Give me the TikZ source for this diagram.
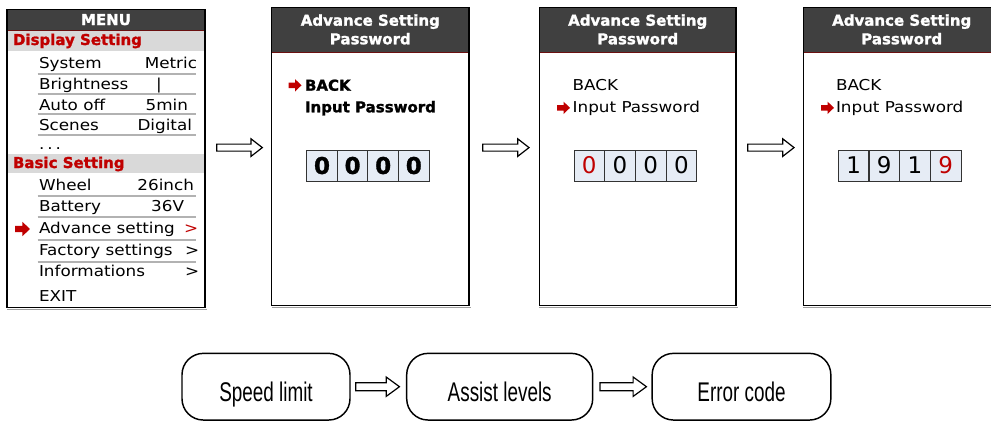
\documentclass[tikz,border=0pt]{standalone}
\usepackage{fontspec}
\setmainfont{DejaVu Sans}
\newfontfamily\mfont[FakeStretch=1.12]{DejaVu Sans}
\newfontfamily\hfont[BoldFeatures={FakeBold=1.4}]{DejaVu Sans}
\newfontfamily\nfont[FakeStretch=0.7]{Liberation Sans}
\usetikzlibrary{calc,fit}
\definecolor{hdr}{HTML}{404040}
\definecolor{hdrline}{HTML}{6B1010}
\definecolor{barc}{HTML}{D9D9D9}
\definecolor{redt}{HTML}{C00000}
\definecolor{cellfill}{HTML}{E6ECF5}
\tikzset{
  txt/.style={inner sep=0pt, outer sep=0pt, anchor=base west, font=\mfont\fontsize{11.25}{13}\selectfont},
  rtxt/.style={txt, anchor=base east},
  btxt/.style={inner sep=0pt, outer sep=0pt, anchor=base west, font=\hfont\bfseries\fontsize{11.25}{13}\selectfont},
  htxt/.style={btxt, anchor=base, text=white},
  rowline/.style={draw=gray!60, line width=1pt},
  panelframe/.style={draw=black, line width=0.9pt, inner sep=0pt},
  pshadow/.style={draw=gray!75, line width=0.9pt},
  hdrbox/.style={fill=hdr, draw=hdrline, line width=0.5pt},
  barbox/.style={fill=barc},
  cell/.style={draw=black!80, line width=0.7pt, fill=cellfill, minimum width=23pt, minimum height=23.25pt, inner sep=0pt, text height=12.6pt, text depth=0pt},
  bdig/.style={cell, font=\hfont\bfseries\fontsize{17.25}{18}\selectfont},
  ndig/.style={cell, font=\hfont\fontsize{17.25}{18}\selectfont},
  blockarr/.style={draw=black, line width=0.9pt, fill=white},
  rbox/.style={draw=black, line width=1.1pt, rounded corners=16pt, minimum height=50pt, inner sep=0pt, text height=22pt, text depth=0pt, font=\nfont\fontsize{20.25}{22}\selectfont},
  pics/redarr/.style={code={
    \fill[redt] (0,-2.8) -- (6.5,-2.8) -- (6.5,-6.2) -- (13,0) -- (6.5,6.2) -- (6.5,2.8) -- (0,2.8) -- cycle;}}
}
\newcommand{\blkarr}[5]{%
  \draw[blockarr] ($(#1)+(0,-#4)$) -- ($(#2)+(-#3,-#4)$) -- ($(#2)+(-#3,-#5)$) -- (#2)
    -- ($(#2)+(-#3,#5)$) -- ($(#2)+(-#3,#4)$) -- ($(#1)+(0,#4)$) -- cycle;}
\begin{document}
\begin{tikzpicture}[x=0.75pt,y=-0.75pt]
\clip (0,0) rectangle (991,421);
\fill[white] (0,0) rectangle (991,421);

% ---------------- Panel 1: MENU ----------------
\draw[hdrbox] (7,9.3) rectangle (205,30.7);
\fill[barbox] (7,30.7) rectangle (205,50.7);
\fill[barbox] (7,154) rectangle (205,173.3);
\node[panelframe, fit={(7,9.3) (205,307.3)}] (p1) {};
\draw[pshadow] ($(p1.south west)+(0.5,1.2)$) -- ($(p1.south east)+(1,1.2)$);
\node[htxt] (t1h) at (106,25) {MENU};
\node[btxt, text=redt] (t1d) at (13,45) {Display Setting};
\node[btxt, text=redt] (t1b) at (13,168) {Basic Setting};
\foreach \yy in {74,94,114,135,196,217,240,262}
  \draw[rowline] (37.7,\yy) -- (196,\yy);
\node[txt] (sys) at (39,68.3) {System};
\node[rtxt] (sysv) at (197,68.3) {Metric};
\node[txt] (bri) at (39,89.3) {Brightness};
\node[txt, anchor=base] (briv) at (159,89.3) {|};
\node[txt] (aut) at (39,110) {Auto off};
\node[rtxt] (autv) at (188,110) {5min};
\node[txt] (sce) at (39,130) {Scenes};
\node[rtxt] (scev) at (192,130) {Digital};
\node[txt] (dots) at (39,149) {.\kern2.2pt.\kern2.2pt.};
\node[txt] (whe) at (39,190.7) {Wheel};
\node[rtxt] (whev) at (194,190.7) {26inch};
\node[txt] (bat) at (39,211.7) {Battery};
\node[rtxt] (batv) at (184,211.7) {36V};
\pic[scale=1.15] at (15,229) {redarr};
\node[txt] (adv) at (39,233.3) {Advance setting};
\node[txt, text=redt] (advv) at (184,233.3) {>};
\node[txt] (fac) at (39,255) {Factory settings};
\node[txt] (facv) at (185,255) {>};
\node[txt] (inf) at (39,276) {Informations};
\node[txt] (infv) at (185,276) {>};
\node[txt] (exi) at (39,301.7) {EXIT};

% ---------------- Panel 2 ----------------
\draw[hdrbox] (271.7,7.3) rectangle (469,52.3);
\node[panelframe, fit={(271.7,7.3) (469,305.7)}] (p2) {};
\draw[pshadow] ($(p2.south west)+(0.5,1.2)$) -- ($(p2.south east)+(1,1.2)$);
\node[htxt] (t2a) at (370.3,25.7) {Advance Setting};
\node[htxt] (t2b) at (370.3,44.3) {Password};
\pic at (288.5,85.3) {redarr};
\node[btxt] (b2) at (305,90.7) {BACK};
\node[btxt] (i2) at (305,112.3) {Input Password};
\node[bdig] (c21) at (322.0,165.5) {0};
\node[bdig] (c22) at (352.6,165.5) {0};
\node[bdig] (c23) at (383.2,165.5) {0};
\node[bdig] (c24) at (413.8,165.5) {0};

% ---------------- Panel 3 ----------------
\draw[hdrbox] (539.3,7.3) rectangle (736,52.3);
\node[panelframe, fit={(539.3,7.3) (736,305.7)}] (p3) {};
\draw[pshadow] ($(p3.south west)+(0.5,1.2)$) -- ($(p3.south east)+(1,1.2)$);
\node[htxt] (t3a) at (637.7,25.7) {Advance Setting};
\node[htxt] (t3b) at (637.7,44.3) {Password};
\node[txt] (b3) at (572.7,90) {BACK};
\pic at (557,107.8) {redarr};
\node[txt] (i3) at (572.7,112.3) {Input Password};
\node[ndig, text=redt] (c31) at (589.3,165.5) {0};
\node[ndig] (c32) at (620.0,165.5) {0};
\node[ndig] (c33) at (650.7,165.5) {0};
\node[ndig] (c34) at (681.4,165.5) {0};

% ---------------- Panel 4 ----------------
\draw[hdrbox] (803.3,7.3) rectangle (1000,52.3);
\node[panelframe, fit={(803.3,7.3) (1000,305.7)}] (p4) {};
\draw[pshadow] ($(p4.south west)+(0.5,1.2)$) -- ($(p4.south east)+(1,1.2)$);
\node[htxt] (t4a) at (901.7,25.7) {Advance Setting};
\node[htxt] (t4b) at (901.7,44.3) {Password};
\node[txt] (b4) at (836,90) {BACK};
\pic at (821,107.8) {redarr};
\node[txt] (i4) at (836,112.3) {Input Password};
\node[ndig] (c41) at (853.6,165.5) {1};
\node[ndig] (c42) at (884.3,165.5) {9};
\node[ndig] (c43) at (915.0,165.5) {1};
\node[ndig, text=redt] (c44) at (945.7,165.5) {9};

% ---------------- arrows between panels ----------------
\coordinate (a1s) at (216.7,147.6);
\coordinate (a1e) at (262.3,147.6);
\coordinate (a2s) at (482.7,147.6);
\coordinate (a2e) at (529,147.6);
\coordinate (a3s) at (747.7,147.6);
\coordinate (a3e) at (794,147.6);
\blkarr{a1s}{a1e}{11.3}{3.5}{8.8}
\blkarr{a2s}{a2e}{11.3}{3.5}{8.8}
\blkarr{a3s}{a3e}{11.3}{3.5}{8.8}

% ---------------- bottom row ----------------
\node[rbox, minimum width=126pt] (s1) at (266,386.7) {Speed limit};
\node[rbox, minimum width=139.5pt] (s2) at (499.7,386.7) {Assist levels};
\node[rbox, minimum width=134pt] (s3) at (741.5,386.7) {Error code};
\coordinate (ba1s) at ($(s1.east)+(5,0)$);
\coordinate (ba1e) at ($(s2.west)+(-6.5,0)$);
\coordinate (ba2s) at ($(s2.east)+(6.5,0)$);
\coordinate (ba2e) at ($(s3.west)+(-5,0)$);
\blkarr{ba1s}{ba1e}{13.3}{4}{9.7}
\blkarr{ba2s}{ba2e}{13.3}{4}{9.7}
\end{tikzpicture}
\end{document}
